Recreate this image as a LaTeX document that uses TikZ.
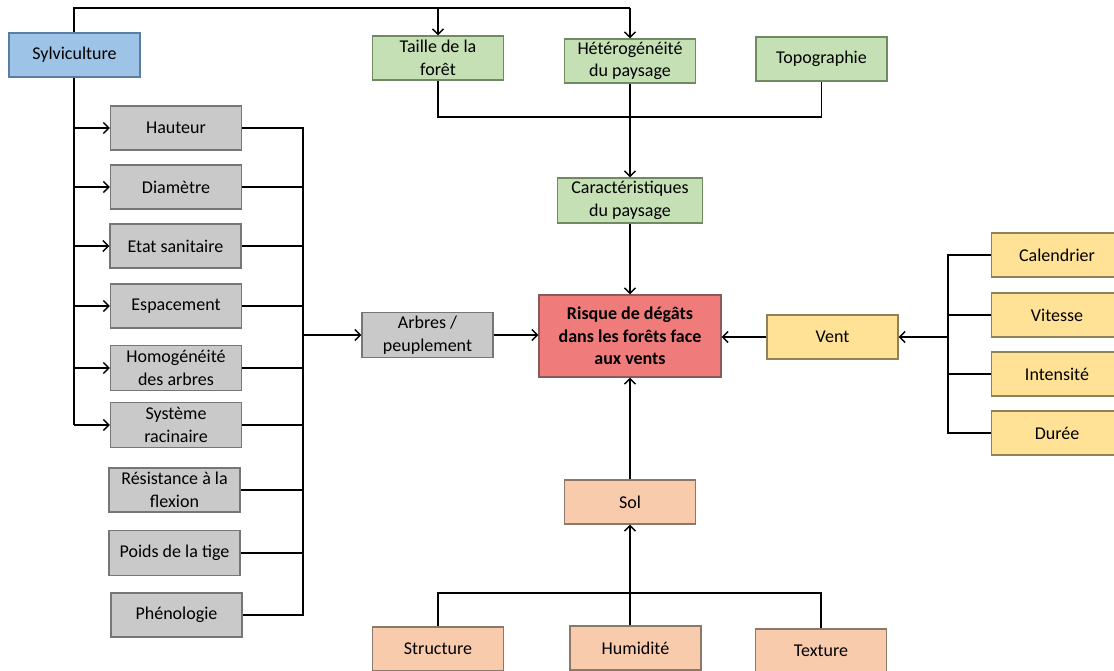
\documentclass[tikz,border=0pt]{standalone}
\usepackage{fontspec}
\setmainfont{Carlito}
\usetikzlibrary{arrows.meta}
\definecolor{greyF}{HTML}{C9C9C9}\definecolor{greyD}{HTML}{767676}
\definecolor{greenF}{HTML}{C5E0B4}\definecolor{greenD}{HTML}{6F8A60}
\definecolor{blueF}{HTML}{9DC3E6}\definecolor{blueD}{HTML}{5B7DA3}
\definecolor{yelF}{HTML}{FFE296}\definecolor{yelD}{HTML}{8F8259}
\definecolor{peachF}{HTML}{F8CBAD}\definecolor{peachD}{HTML}{8C7868}
\definecolor{redF}{HTML}{F07B7B}\definecolor{redD}{HTML}{8A5A5A}
\tikzset{
  bx/.style={rectangle, minimum width=131pt, minimum height=44pt, inner sep=0pt,
    align=center, line width=1.1pt, font=\fontsize{18}{22.5}\selectfont},
  greybox/.style={bx, fill=greyF, draw=greyD},
  greenbox/.style={bx, fill=greenF, draw=greenD},
  bluebox/.style={bx, fill=blueF, draw=blueD},
  yelbox/.style={bx, fill=yelF, draw=yelD},
  peachbox/.style={bx, fill=peachF, draw=peachD},
  redbox/.style={bx, fill=redF, draw=redD},
  conn/.style={line width=1.6pt, black},
  arr/.style={conn, -{Straight Barb[length=5.5pt,width=11pt,line width=1.5pt]}}
}
\begin{document}
\begin{tikzpicture}[x=1pt,y=-1pt]
\clip (0,0) rectangle (1114,670);
\fill[white] (0,0) rectangle (1114,670);
% nodes
\node[bluebox] (sylv) at (74.5,55) {Sylviculture};
\node[greenbox] (taille) at (438,58) {Taille de la\\forêt};
\node[greenbox] (hetero) at (630,61) {Hétérogénéité\\du paysage};
\node[greenbox] (topo) at (821.5,59) {Topographie};
\node[greenbox, minimum width=145pt, minimum height=45pt] (caract) at (630,200.5) {Caractéristiques\\du paysage};
\node[redbox, minimum width=182pt, minimum height=82pt, font=\fontsize{18}{22.5}\selectfont\bfseries] (risque) at (630,336) {Risque de dégâts\\dans les forêts face\\aux vents};
\node[yelbox] (vent) at (832.5,337) {Vent};
\node[yelbox] (cal) at (1057,255) {Calendrier};
\node[yelbox] (vit) at (1057,315) {Vitesse};
\node[yelbox] (int) at (1057,374) {Intensité};
\node[yelbox] (dur) at (1057,433) {Durée};
\node[greybox, minimum height=45pt] (arbres) at (427.5,335) {Arbres /\\peuplement};
\node[greybox] (haut) at (176,128) {Hauteur};
\node[greybox] (diam) at (176,187) {Diamètre};
\node[greybox] (etat) at (175.5,246) {Etat sanitaire};
\node[greybox] (esp) at (176,306) {Espacement};
\node[greybox, minimum height=45pt] (homog) at (176,368) {Homogénéité\\des arbres};
\node[greybox, minimum height=45pt] (syst) at (176,425) {Système\\racinaire};
\node[greybox] (resis) at (174.5,490) {Résistance à la\\flexion};
\node[greybox, minimum height=45pt] (poids) at (174.5,553) {Poids de la tige};
\node[greybox] (pheno) at (176.5,615) {Phénologie};
\node[peachbox] (sol) at (630,502) {Sol};
\node[peachbox] (struct) at (438,649) {Structure};
\node[peachbox] (humid) at (635.5,648) {Humidité};
\node[peachbox] (text) at (821,651) {Texture};
% helper coordinates
\coordinate (topL) at (74,8);
\coordinate (landbus) at (0,117);
\coordinate (lbus) at (74,0);
\coordinate (rbus) at (303,0);
\coordinate (vbus) at (948,0);
\coordinate (sbus) at (0,593);
% top connectors
\draw[conn] (sylv.north -| lbus) -- (topL) -- (topL -| hetero.north);
\draw[arr] (topL -| hetero.north) -- (hetero.north);
\draw[arr] (topL -| taille.north) -- (taille.north);
\draw[conn] (taille.south) |- (landbus -| topo.south) -- (topo.south);
\draw[arr] (hetero.south) -- (caract.north);
\draw[arr] (caract.south) -- (risque.north);
% left: sylviculture to tree factors
\draw[conn] (sylv.south -| lbus) -- (lbus |- syst);
\foreach \n in {haut,diam,etat,esp,homog,syst}
  \draw[arr] (lbus |- \n) -- (\n.west);
% tree factors bus
\draw[conn] (haut.east) -| (rbus |- pheno) -- (pheno.east);
\foreach \n in {diam,etat,esp,homog,syst,resis,poids}
  \draw[conn] (\n.east) -- (rbus |- \n);
\draw[arr] (rbus |- arbres) -- (arbres.west);
\draw[arr] (arbres.east) -- (arbres.east -| risque.west);
% wind
\draw[arr] (vent.west) -- (vent.west -| risque.east);
\draw[conn] (cal.west) -| (vbus |- dur) -- (dur.west);
\foreach \n in {vit,int}
  \draw[conn] (\n.west) -- (vbus |- \n);
\draw[arr] (vbus |- vent) -- (vent.east);
% soil
\draw[arr] (sol.north) -- (risque.south);
\draw[conn] (struct.north) |- (sbus -| text.north) -- (text.north);
\draw[arr] (sol.south |- humid.north) -- (sol.south);
\end{tikzpicture}
\end{document}
